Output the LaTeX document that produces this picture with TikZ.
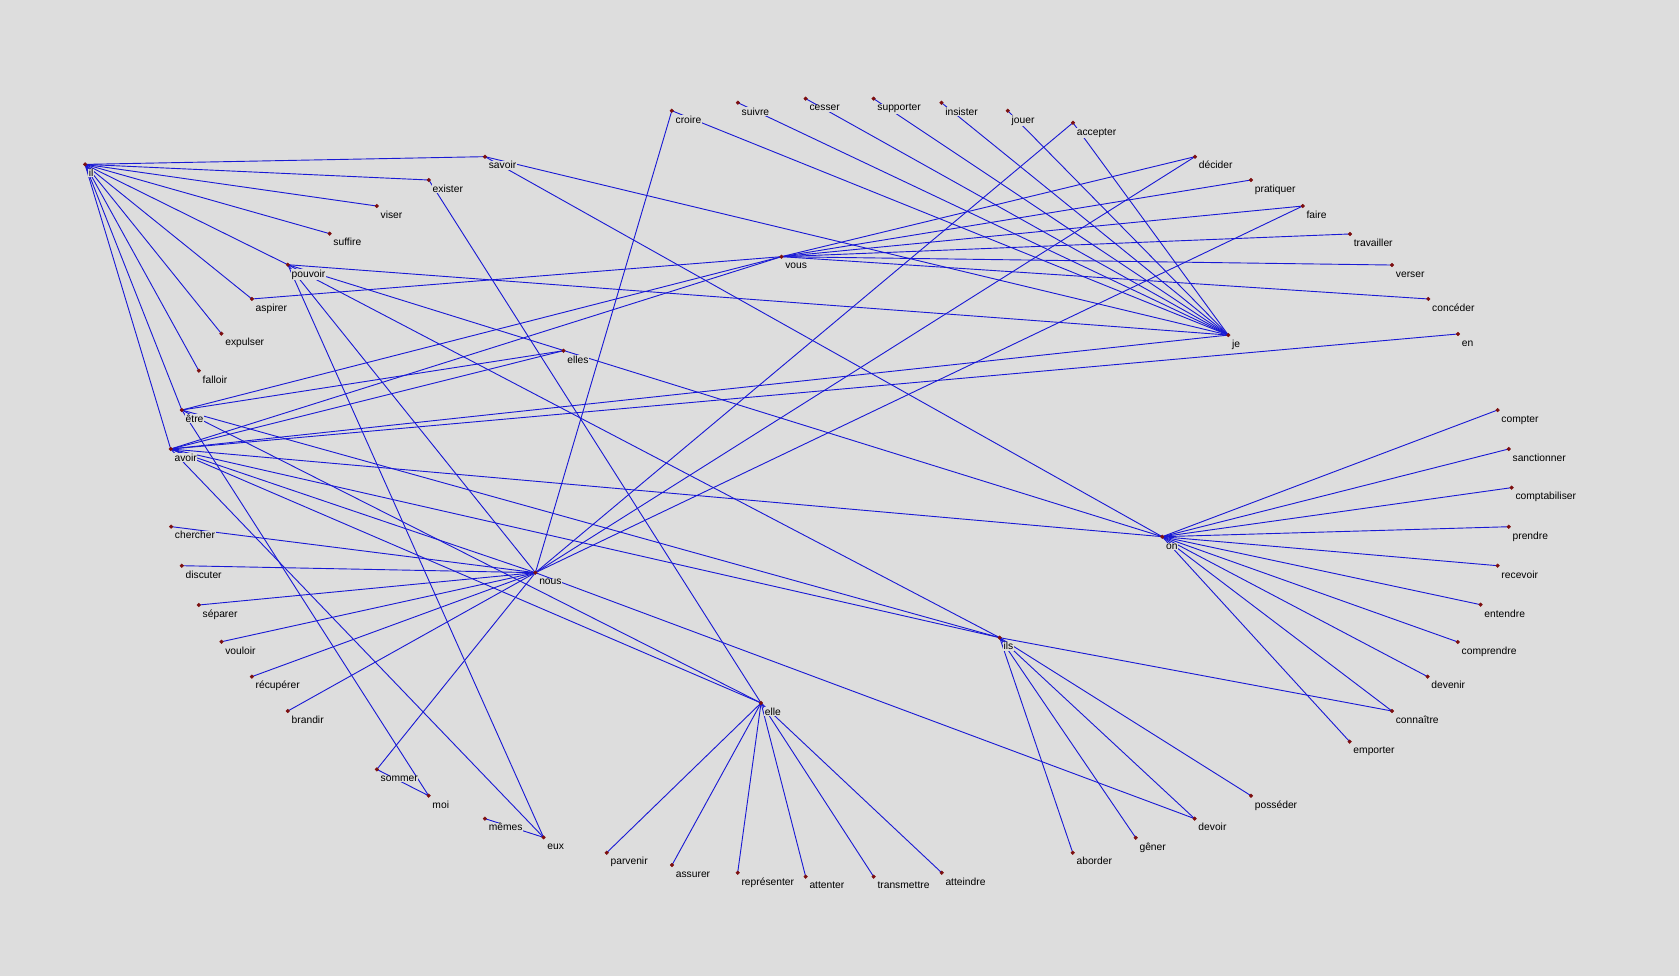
\documentclass[tikz,border=0pt]{standalone}
\usepackage{fontspec}
\setmainfont{Liberation Sans}
\definecolor{bggray}{RGB}{221,221,221}
\definecolor{linkblue}{RGB}{25,25,212}
\definecolor{dotred}{RGB}{125,15,15}
\pgfdeclarelayer{back}
\pgfsetlayers{back,main}
\begin{document}
\begin{tikzpicture}
		[x=1pt,y=-1pt,
		dot/.style = {shape=circle, draw=dotred, fill=dotred, inner sep=0pt, minimum size=3.4pt},
		word/.style = {anchor=base west, fill=bggray, inner sep=0.6pt, font=\fontsize{9.6}{11}\selectfont},
		link/.style = {draw=linkblue, line width=0.85pt}]
		% left part
		\node[dot,name=il] at (79.4,153.5) {};
		\node[dot,name=savoir] at (452.9,146.3) {};
		\node[dot,name=exister] at (400.5,168.1) {};
		\node[dot,name=viser] at (351.9,192.4) {};
		\node[dot,name=suffire] at (307.8,218.2) {};
		\node[dot,name=pouvoir] at (268.8,247.2) {};
		\node[dot,name=aspirer] at (235.2,279.2) {};
		\node[dot,name=expulser] at (206.8,311.6) {};
		\node[dot,name=falloir] at (185.7,346.2) {};
		\node[dot,name=etre] at (169.8,382.9) {};
		\node[dot,name=avoir] at (159.4,419.3) {};
		\node[dot,name=elles] at (526.3,327.5) {};
		\node[dot,name=chercher] at (159.8,491.8) {};
		\node[dot,name=discuter] at (169.8,528.3) {};
		\node[dot,name=separer] at (185.7,565.0) {};
		\node[dot,name=vouloir] at (206.8,599.3) {};
		\node[dot,name=recuperer] at (235.2,631.9) {};
		\node[dot,name=brandir] at (268.8,664.0) {};
		\node[dot,name=sommer] at (351.9,718.5) {};
		\node[dot,name=moi] at (400.3,743.1) {};
		\node[dot,name=memes] at (452.9,764.5) {};
		\node[dot,name=eux] at (507.6,782.0) {};
		\node[dot,name=nous] at (500.0,534.8) {};
		% top part
		\node[dot,name=croire] at (627.4,103.4) {};
		\node[dot,name=suivre] at (689.1,95.9) {};
		\node[dot,name=cesser] at (752.4,92.1) {};
		\node[dot,name=supporter] at (815.8,92.1) {};
		\node[dot,name=insister] at (879.2,95.9) {};
		\node[dot,name=jouer] at (941.2,103.4) {};
		\node[dot,name=accepter] at (1002.0,114.6) {};
		\node[dot,name=decider] at (1116.0,146.3) {};
		\node[dot,name=pratiquer] at (1168.3,168.1) {};
		\node[dot,name=faire] at (1216.6,192.4) {};
		\node[dot,name=travailler] at (1260.7,218.5) {};
		\node[dot,name=verser] at (1300.0,247.5) {};
		\node[dot,name=conceder] at (1333.9,279.2) {};
		\node[dot,name=je] at (1147.1,312.9) {};
		\node[dot,name=en] at (1361.6,311.9) {};
		\node[dot,name=vous] at (729.8,239.7) {};
		% right part
		\node[dot,name=compter] at (1398.6,382.9) {};
		\node[dot,name=sanctionner] at (1409.0,419.3) {};
		\node[dot,name=comptabiliser] at (1411.7,455.4) {};
		\node[dot,name=prendre] at (1409.0,491.9) {};
		\node[dot,name=recevoir] at (1398.6,528.3) {};
		\node[dot,name=entendre] at (1382.7,564.7) {};
		\node[dot,name=comprendre] at (1361.4,599.5) {};
		\node[dot,name=devenir] at (1333.2,631.9) {};
		\node[dot,name=connaitre] at (1299.9,664.0) {};
		\node[dot,name=emporter] at (1260.4,692.6) {};
		\node[dot,name=posseder] at (1168.3,743.1) {};
		\node[dot,name=devoir] at (1115.6,764.5) {};
		\node[dot,name=gener] at (1060.6,782.3) {};
		\node[dot,name=aborder] at (1001.8,796.3) {};
		\node[dot,name=on] at (1085.4,501.2) {};
		\node[dot,name=ils] at (933.6,595.5) {};
		% bottom part
		\node[dot,name=elle] at (710.7,656.5) {};
		\node[dot,name=parvenir] at (566.6,796.3) {};
		\node[dot,name=assurer] at (627.6,807.8) {};
		\node[dot,name=representer] at (688.9,815.0) {};
		\node[dot,name=attenter] at (752.4,818.7) {};
		\node[dot,name=transmettre] at (815.9,818.7) {};
		\node[dot,name=atteindre] at (879.4,815.0) {};
\begin{pgfonlayer}{back}
	\fill[bggray] (0,0) rectangle (1568,911);
	\foreach \a/\b in {il/savoir,il/exister,il/viser,il/suffire,il/pouvoir,il/aspirer,il/expulser,il/falloir,il/etre,il/avoir,
		je/croire,je/suivre,je/cesser,je/supporter,je/insister,je/jouer,je/accepter,je/savoir,je/pouvoir,je/avoir,
		vous/aspirer,vous/etre,vous/avoir,vous/decider,vous/pratiquer,vous/faire,vous/travailler,vous/verser,vous/conceder,
		en/avoir,elles/etre,elles/avoir,on/pouvoir,
		nous/chercher,nous/discuter,nous/separer,nous/vouloir,nous/recuperer,nous/brandir,nous/sommer,nous/croire,
		nous/pouvoir,nous/avoir,nous/accepter,nous/decider,nous/faire,nous/devoir,
		ils/pouvoir,ils/etre,ils/avoir,ils/connaitre,ils/posseder,ils/devoir,ils/gener,ils/aborder,
		on/savoir,on/avoir,on/compter,on/sanctionner,on/comptabiliser,on/prendre,on/recevoir,on/entendre,
		on/comprendre,on/devenir,on/connaitre,on/emporter,
		elle/exister,elle/etre,elle/avoir,elle/parvenir,elle/assurer,elle/representer,elle/attenter,elle/transmettre,elle/atteindre,
		eux/avoir,eux/pouvoir,eux/memes,moi/etre,moi/sommer}
	{
		\draw[link] (\a.center) -- (\b.center);
	}
\end{pgfonlayer}
\foreach \n/\t in {il/il,savoir/savoir,exister/exister,viser/viser,suffire/suffire,pouvoir/pouvoir,aspirer/aspirer,
	expulser/expulser,falloir/falloir,etre/être,avoir/avoir,elles/elles,chercher/chercher,discuter/discuter,
	separer/séparer,vouloir/vouloir,recuperer/récupérer,brandir/brandir,sommer/sommer,moi/moi,memes/mêmes,eux/eux,
	nous/nous,croire/croire,suivre/suivre,cesser/cesser,supporter/supporter,insister/insister,jouer/jouer,
	accepter/accepter,decider/décider,pratiquer/pratiquer,faire/faire,travailler/travailler,verser/verser,
	conceder/concéder,je/je,en/en,vous/vous,compter/compter,sanctionner/sanctionner,comptabiliser/comptabiliser,
	prendre/prendre,recevoir/recevoir,entendre/entendre,comprendre/comprendre,devenir/devenir,connaitre/connaître,
	emporter/emporter,posseder/posséder,devoir/devoir,gener/gêner,aborder/aborder,on/on,ils/ils,elle/elle,
	parvenir/parvenir,assurer/assurer,representer/représenter,attenter/attenter,transmettre/transmettre,atteindre/atteindre}
{
	\node[word] at (\n) [xshift=2.8pt,yshift=-11.5pt] {\t};
}
	\end{tikzpicture}
\end{document}
